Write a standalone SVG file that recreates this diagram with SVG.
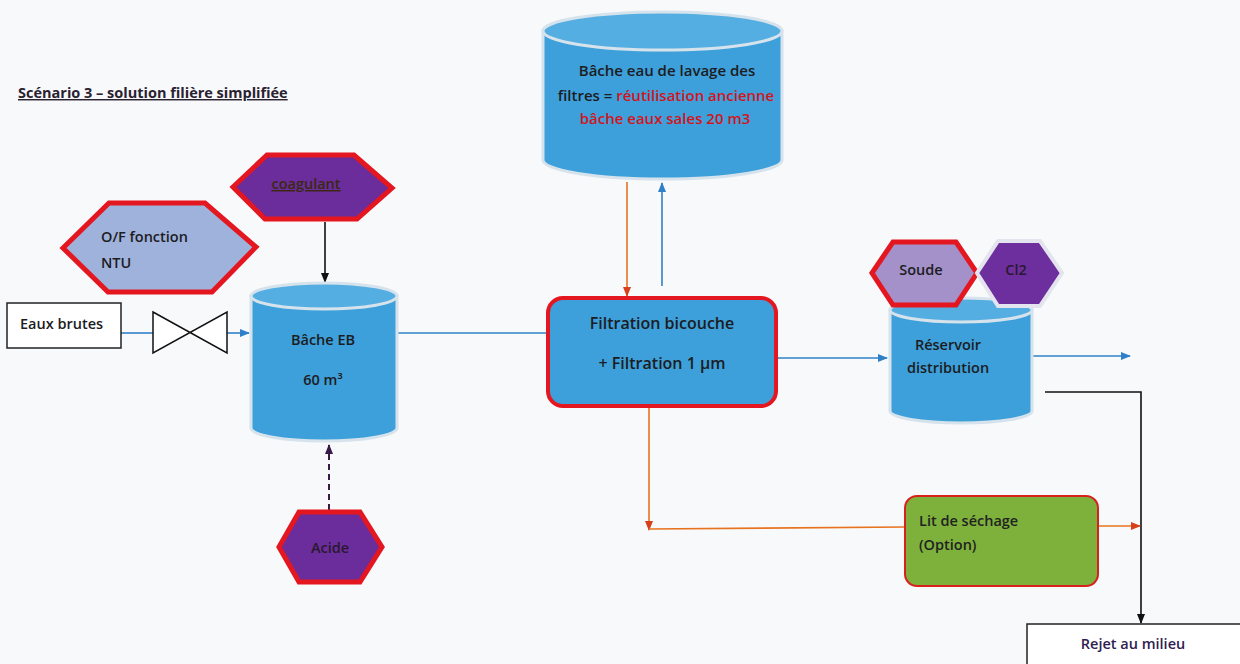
<svg xmlns="http://www.w3.org/2000/svg" width="1240" height="664" viewBox="0 0 1240 664">
<style>
text{font-family:"Open Sans","Liberation Sans",sans-serif;fill:#1c1c22;font-size:14.5px;font-weight:600}
.c{text-anchor:middle}
.red{fill:#d3141c}
.body{fill:#3da0da;stroke:#d6e3ec;stroke-width:3}
.top{fill:#55aee2;stroke:#d6e3ec;stroke-width:3}
.hex{stroke:#e4161f;stroke-width:5;stroke-linejoin:miter}
.purple{fill:#6b2d9b}
.blue{stroke:#2f80c8;stroke-width:1.6;fill:none}
.orange{stroke:#e8731e;stroke-width:1.6;fill:none}
.black{stroke:#111;stroke-width:1.6;fill:none}
</style>
<defs>
<marker id="ab" markerWidth="10" markerHeight="10" refX="9" refY="5" orient="auto" markerUnits="userSpaceOnUse"><path d="M0,1 L10,5 L0,9 Z" fill="#2f80c8"/></marker>
<marker id="ao" markerWidth="10" markerHeight="10" refX="9" refY="5" orient="auto" markerUnits="userSpaceOnUse"><path d="M0,1 L10,5 L0,9 Z" fill="#d8401c"/></marker>
<marker id="ak" markerWidth="10" markerHeight="10" refX="9" refY="5" orient="auto" markerUnits="userSpaceOnUse"><path d="M0,1 L10,5 L0,9 Z" fill="#111"/></marker>
<marker id="ap" markerWidth="10" markerHeight="10" refX="9" refY="5" orient="auto" markerUnits="userSpaceOnUse"><path d="M0,1 L10,5 L0,9 Z" fill="#3a1848"/></marker>
</defs>
<rect width="1240" height="664" fill="#f8f9fb"/>

<text id="title" x="18" y="98" style="font-size:14.5px;font-weight:bold;text-decoration:underline;fill:#2a2230">Scénario 3 – solution filière simplifiée</text>

<g id="connectors">
  <line class="blue" x1="121" y1="333" x2="153" y2="333"/>
  <line class="blue" x1="227" y1="333" x2="249" y2="333" marker-end="url(#ab)"/>
  <line class="black" x1="325" y1="222" x2="325" y2="282" marker-end="url(#ak)"/>
  <line x1="329" y1="510" x2="329" y2="445" stroke="#3a1848" stroke-width="2" stroke-dasharray="6,4" marker-end="url(#ap)"/>
  <line class="blue" x1="398" y1="333" x2="547" y2="333"/>
  <line class="orange" x1="627" y1="182" x2="627" y2="296" marker-end="url(#ao)"/>
  <line class="blue" x1="662" y1="286" x2="662" y2="183" marker-end="url(#ab)"/>
  <line class="blue" x1="777" y1="358" x2="887" y2="358" marker-end="url(#ab)"/>
  <line class="blue" x1="1032" y1="356" x2="1130" y2="356" marker-end="url(#ab)"/>
  <polyline class="black" points="1045,392 1141,392 1141,623" marker-end="url(#ak)"/>
  <line class="orange" x1="649" y1="407" x2="649" y2="530" marker-end="url(#ao)"/>
  <line class="orange" x1="649" y1="529" x2="905" y2="527"/>
  <line class="orange" x1="1098" y1="526" x2="1140" y2="526" marker-end="url(#ao)"/>
</g>

<g id="bache-lavage">
  <path class="body" d="M543,31 L543,160 A119.5,19 0 0 0 782,160 L782,31 Z"/>
  <ellipse class="top" cx="662.5" cy="31" rx="119.5" ry="19"/>
  <text class="c" x="667" y="76" style="font-size:15px">Bâche eau de lavage des</text>
  <text class="c" x="666" y="101" style="font-size:15px">filtres = <tspan class="red">réutilisation ancienne</tspan></text>
  <text class="c red" x="665" y="124" style="font-size:15px">bâche eaux sales 20 m3</text>
</g>

<g id="coagulant">
  <polygon class="hex purple" points="233,187 267,155 354,155 392,188 357,219 265,219"/>
  <text class="c" x="306" y="189" style="text-decoration:underline;fill:#3a2810">coagulant</text>
</g>

<g id="of-ntu">
  <polygon class="hex" fill="#9fb2dc" points="63,248 109,203 205,203 256,247 212,292 108,292"/>
  <text x="101" y="242">O/F fonction</text>
  <text x="101" y="268">NTU</text>
</g>

<g id="eaux-brutes">
  <rect x="7" y="303" width="114" height="45" fill="#fff" stroke="#222" stroke-width="1.5"/>
  <text x="20" y="329">Eaux brutes</text>
</g>

<g id="vanne">
  <path d="M153,312 L227,353 L227,312 L153,353 Z" fill="#fff" stroke="#111" stroke-width="1.5" stroke-linejoin="miter"/>
</g>

<g id="bache-eb">
  <path class="body" d="M251,296 L251,428 A73,13 0 0 0 397,428 L397,296 Z"/>
  <ellipse class="top" cx="324" cy="296" rx="73" ry="13"/>
  <text class="c" x="323" y="345">Bâche EB</text>
  <text class="c" x="323" y="385">60 m³</text>
</g>

<g id="acide">
  <polygon class="hex purple" points="279,547 299,512 360,512 382,547 360,582 299,582"/>
  <text class="c" x="330" y="553" style="fill:#2a1830">Acide</text>
</g>

<g id="filtration">
  <rect x="548" y="298" width="228" height="108" rx="15" fill="#3da0da" stroke="#e4161f" stroke-width="4"/>
  <text class="c" x="662" y="329" style="font-size:16px">Filtration bicouche</text>
  <text class="c" x="662" y="369" style="font-size:16px">+ Filtration 1 µm</text>
</g>

<g id="reservoir">
  <path class="body" d="M890,310 L890,411 A71,12 0 0 0 1032,411 L1032,310 Z"/>
  <ellipse class="top" cx="961" cy="310" rx="71" ry="12"/>
  <text class="c" x="948" y="350">Réservoir</text>
  <text class="c" x="948" y="373">distribution</text>
</g>

<g id="soude">
  <polygon class="hex" fill="#a491c9" points="872,273 893,242 956,242 977,273 956,305 893,305"/>
  <text class="c" x="921" y="275">Soude</text>
</g>

<g id="cl2">
  <polygon points="977,273 998,241 1040,241 1062,273 1040,306 998,306" fill="#6d2f9e" stroke="#e4e4ee" stroke-width="4"/>
  <text class="c" x="1016" y="275" style="fill:#2a1830">Cl2</text>
</g>

<g id="lit-sechage">
  <rect x="905" y="496" width="193" height="90" rx="12" fill="#7db13c" stroke="#d8201c" stroke-width="2"/>
  <text x="919" y="526" style="fill:#222">Lit de séchage</text>
  <text x="919" y="550" style="fill:#222">(Option)</text>
</g>

<g id="rejet">
  <rect x="1027" y="624" width="220" height="50" fill="#fff" stroke="#222" stroke-width="1.5"/>
  <text class="c" x="1133" y="649" style="fill:#302050">Rejet au milieu</text>
</g>
</svg>
